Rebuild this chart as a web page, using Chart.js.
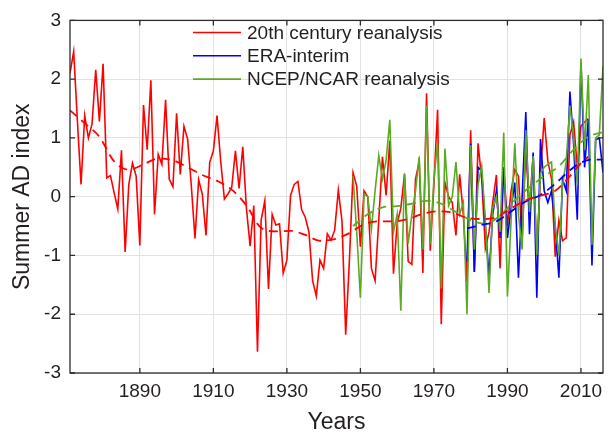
<!DOCTYPE html>
<html lang="en">
<head>
<meta charset="UTF-8">
<title>Summer AD index</title>
<script src="https://cdn.jsdelivr.net/npm/chart.js"></script>
<style>
    html, body { margin: 0; padding: 0; background: #fff; }
    canvas { display: block; }
</style>
</head>
<body>
<canvas id="adChart" width="616" height="437"></canvas>
<script>
// series names, in legend order
var seriesNames = ['20th century reanalysis', 'ERA-interim', 'NCEP/NCAR reanalysis'];

// 20th century reanalysis, one value per year from 1871
var redStart = 1871;
var redValues = [
    2.10, 2.47, 1.30, 0.21, 1.38, 1.00, 1.24, 2.16, 1.28, 2.26,   // 1871-1880
    0.32, 0.36, 0.07, -0.21, 0.79, -0.94, 0.21, 0.57, 0.35, -0.83, // 1881-1890
    1.56, 0.80, 1.98, -0.30, 0.72, 0.55, 1.65, 0.30, 0.17, 1.42,   // 1891-1900
    0.38, 1.20, 0.98, 0.19, -0.71, 0.29, 0.04, -0.66, 0.58, 0.78,  // 1901-1910
    1.38, 0.60, -0.04, 0.05, 0.16, 0.78, 0.14, 0.85, -0.20, -0.84, // 1911-1920
    -0.15, -2.64, -0.40, -0.07, -1.57, -0.30, -0.48, -0.46, -1.30, -1.08, // 1921-1930
    0.02, 0.21, 0.26, -0.22, -0.35, -0.60, -1.43, -1.69, -1.08, -1.22,   // 1931-1940
    -0.63, -0.74, -0.57, 0.11, -0.42, -2.35, -1.10, 0.41, 0.18, -0.85,   // 1941-1950
    0.10, 0.00, -1.22, -1.43, -0.40, 0.68, 0.02, 0.95, -1.31, -0.45,     // 1951-1960
    -0.20, 0.38, -1.10, -1.15, 0.30, 0.60, -1.30, 1.76, -0.92, 0.20,     // 1961-1970
    1.48, -2.17, 0.24, 0.00, -0.10, -0.66, 0.38, -0.30, -1.45, 1.13,     // 1971-1980
    -1.28, 0.91, 0.30, -0.88, -0.60, -0.10, 0.37, -1.22, 0.50, -0.50,    // 1981-1990
    0.10, 0.46, 0.35, -0.74, 0.80, -0.20, 0.70, -1.00, 0.40, 1.34,       // 1991-2000
    0.60, 0.30, -1.02, -0.40, -0.75, -0.70, 1.05, 1.27, 0.50, 1.20,      // 2001-2010
    1.27, 1.33                                                           // 2011-2012
];

// ERA-interim, from 1979
var blueStart = 1979;
var blueValues = [
    -1.10, 0.90,                                                         // 1979-1980
    -1.28, 0.50, 0.44, -0.50, -1.35, -0.30, 0.10, -0.70, 0.50, -0.70,    // 1981-1990
    -0.20, 0.24, -1.38, 0.00, 1.44, -0.64, 0.75, -1.72, 0.98, 0.10,      // 1991-2000
    -0.10, 0.10, -0.50, -1.38, 0.30, 0.10, 1.79, 0.90, -0.39, 2.28,      // 2001-2010
    0.50, 1.32, -1.17, 0.97, 1.00, 0.41                                  // 2011-2016
];

// NCEP/NCAR reanalysis, from 1948
var greenStart = 1948;
var greenValues = [
    0.35, -0.60, -1.72,                                                  // 1948-1950
    0.05, 0.00, -0.55, 0.10, 0.70, 0.30, 0.62, 1.31, -0.60, -0.30,       // 1951-1960
    -1.94, 0.40, -0.80, -0.30, 0.10, 0.68, -0.90, 1.55, -0.80, 0.30,     // 1961-1970
    0.92, -1.56, 0.82, -0.15, 0.00, 0.59, -0.30, -0.10, -2.00, 0.88,     // 1971-1980
    -0.90, 0.20, 0.52, -0.40, -1.64, -0.20, 0.00, -0.60, 1.09, -1.70,    // 1981-1990
    -0.40, 0.91, -0.30, -0.90, 1.13, -0.26, 0.69, -0.99, 0.40, 0.50,     // 1991-2000
    0.55, 0.59, -0.50, -1.00, 0.20, 0.60, 1.55, 1.00, 0.20, 2.35,        // 2001-2010
    0.80, 2.07, -0.82, 1.00, 1.05, 2.22                                  // 2011-2016
];

// smoothed curves (dashed), read at a few years
var redTrendYears = [1871, 1875, 1879, 1883, 1887, 1891, 1895, 1899, 1903, 1907, 1911, 1915, 1919, 1923,
    1927, 1931, 1935, 1939, 1943, 1947, 1951, 1955, 1959, 1963, 1967, 1971, 1975, 1979, 1983, 1987,
    1991, 1995, 1999, 2003, 2007, 2010, 2012];
var redTrendValues = [1.47, 1.25, 1.02, 0.60, 0.46, 0.55, 0.65, 0.62, 0.50, 0.37, 0.27, 0.12, -0.15, -0.53,
    -0.59, -0.58, -0.65, -0.75, -0.72, -0.62, -0.47, -0.42, -0.42, -0.38, -0.29, -0.25, -0.27, -0.36, -0.38, -0.35,
    -0.20, -0.06, 0.02, 0.10, 0.35, 0.57, 0.68];
var blueTrendYears = [1979, 1983, 1987, 1991, 1995, 1999, 2003, 2007, 2010, 2013, 2016];
var blueTrendValues = [-0.54, -0.48, -0.42, -0.25, -0.08, 0.03, 0.22, 0.45, 0.58, 0.63, 0.63];
var greenTrendYears = [1948, 1952, 1956, 1960, 1964, 1968, 1972, 1976, 1980, 1984, 1988, 1992, 1996, 2000, 2004, 2008, 2012, 2016];
var greenTrendValues = [-0.50, -0.30, -0.18, -0.16, -0.12, -0.07, -0.12, -0.26, -0.40, -0.46, -0.32, -0.06, 0.16, 0.35, 0.52, 0.80, 1.02, 1.10];

// axis ticks
var yearTicks = [1890, 1910, 1930, 1950, 1970, 1990, 2010];
var indexTicks = [-3, -2, -1, 0, 1, 2, 3];

var red = '#ff0000';
var blue = '#0000ff';
var green = '#5aab24';
var textColor = '#231f20';
var fontName = '"Liberation Sans", Arial, Helvetica, sans-serif';

function yearly(start, values) {
    return values.map(function (v, i) { return { x: start + i, y: v }; });
}

function paired(years, values) {
    return years.map(function (yr, i) { return { x: yr, y: values[i] }; });
}

// legend drawn inside the axes, no box
var legendPlugin = {
    id: 'insideLegend',
    afterDraw: function (chart) {
        var ctx = chart.ctx;
        var colors = [red, blue, green];
        ctx.save();
        ctx.font = '19px ' + fontName;
        ctx.textBaseline = 'middle';
        ctx.fillStyle = textColor;
        for (var i = 0; i < seriesNames.length; i++) {
            var y = 32.5 + i * 23.3;
            ctx.strokeStyle = colors[i];
            ctx.lineWidth = 1.6;
            ctx.beginPath();
            ctx.moveTo(193, y);
            ctx.lineTo(241, y);
            ctx.stroke();
            ctx.fillText(seriesNames[i], 247, y + 1);
        }
        ctx.restore();
    }
};

// box round the axes with inward ticks on all sides
var boxPlugin = {
    id: 'axesBox',
    afterDraw: function (chart) {
        var a = chart.chartArea;
        var ctx = chart.ctx;
        var xs = chart.scales.x, ys = chart.scales.y;
        ctx.save();
        ctx.strokeStyle = '#2b2b2b';
        ctx.lineWidth = 1.3;
        ctx.strokeRect(a.left, a.top, a.right - a.left, a.bottom - a.top);
        ctx.beginPath();
        yearTicks.forEach(function (t) {
            var px = xs.getPixelForValue(t);
            ctx.moveTo(px, a.bottom); ctx.lineTo(px, a.bottom - 5);
            ctx.moveTo(px, a.top); ctx.lineTo(px, a.top + 5);
        });
        indexTicks.forEach(function (t) {
            var py = ys.getPixelForValue(t);
            ctx.moveTo(a.left, py); ctx.lineTo(a.left + 5, py);
            ctx.moveTo(a.right, py); ctx.lineTo(a.right - 5, py);
        });
        ctx.stroke();
        ctx.restore();
    }
};

var ctx = document.getElementById('adChart').getContext('2d');
new Chart(ctx, {
    type: 'line',
    data: {
        datasets: [
            { label: 'red trend', data: paired(redTrendYears, redTrendValues), borderColor: red, borderWidth: 1.8, borderDash: [9, 6], cubicInterpolationMode: 'monotone', order: 0 },
            { label: 'blue trend', data: paired(blueTrendYears, blueTrendValues), borderColor: blue, borderWidth: 1.8, borderDash: [9, 6], cubicInterpolationMode: 'monotone', order: 0 },
            { label: 'green trend', data: paired(greenTrendYears, greenTrendValues), borderColor: green, borderWidth: 1.8, borderDash: [9, 6], cubicInterpolationMode: 'monotone', order: 0 },
            { label: seriesNames[2], data: yearly(greenStart, greenValues), borderColor: green, borderWidth: 1.6, order: 1 },
            { label: seriesNames[1], data: yearly(blueStart, blueValues), borderColor: blue, borderWidth: 1.6, order: 2 },
            { label: seriesNames[0], data: yearly(redStart, redValues), borderColor: red, borderWidth: 1.6, order: 3 }
        ]
    },
    options: {
        responsive: false,
        animation: false,
        devicePixelRatio: 1,
        parsing: false,
        elements: { point: { radius: 0 }, line: { tension: 0, fill: false } },
        layout: { padding: { top: 15, right: 13, left: 0, bottom: 0 } },
        plugins: { legend: { display: false }, tooltip: { enabled: false } },
        scales: {
            x: {
                type: 'linear',
                min: 1871,
                max: 2016,
                afterBuildTicks: function (scale) {
                    scale.ticks = yearTicks.map(function (v) { return { value: v }; });
                },
                afterFit: function (scale) { scale.height = 64; },
                grid: { color: '#e2e2e2', drawTicks: false },
                border: { display: false },
                ticks: {
                    font: { family: fontName, size: 19 },
                    color: textColor,
                    padding: 7,
                    maxRotation: 0,
                    callback: function (v) { return String(v); }
                },
                title: {
                    display: true,
                    text: 'Years',
                    font: { family: fontName, size: 23 },
                    color: textColor,
                    padding: { top: 0, bottom: 1 }
                }
            },
            y: {
                min: -3,
                max: 3,
                afterBuildTicks: function (scale) {
                    scale.ticks = indexTicks.map(function (v) { return { value: v }; });
                },
                afterFit: function (scale) { scale.width = 70; },
                grid: { color: '#e2e2e2', drawTicks: false },
                border: { display: false },
                ticks: {
                    font: { family: fontName, size: 19 },
                    color: textColor,
                    padding: 9
                },
                title: {
                    display: true,
                    text: 'Summer AD index',
                    font: { family: fontName, size: 23 },
                    color: textColor,
                    padding: { top: 9, bottom: 0 }
                }
            }
        }
    },
    plugins: [legendPlugin, boxPlugin]
});
</script>
</body>
</html>
